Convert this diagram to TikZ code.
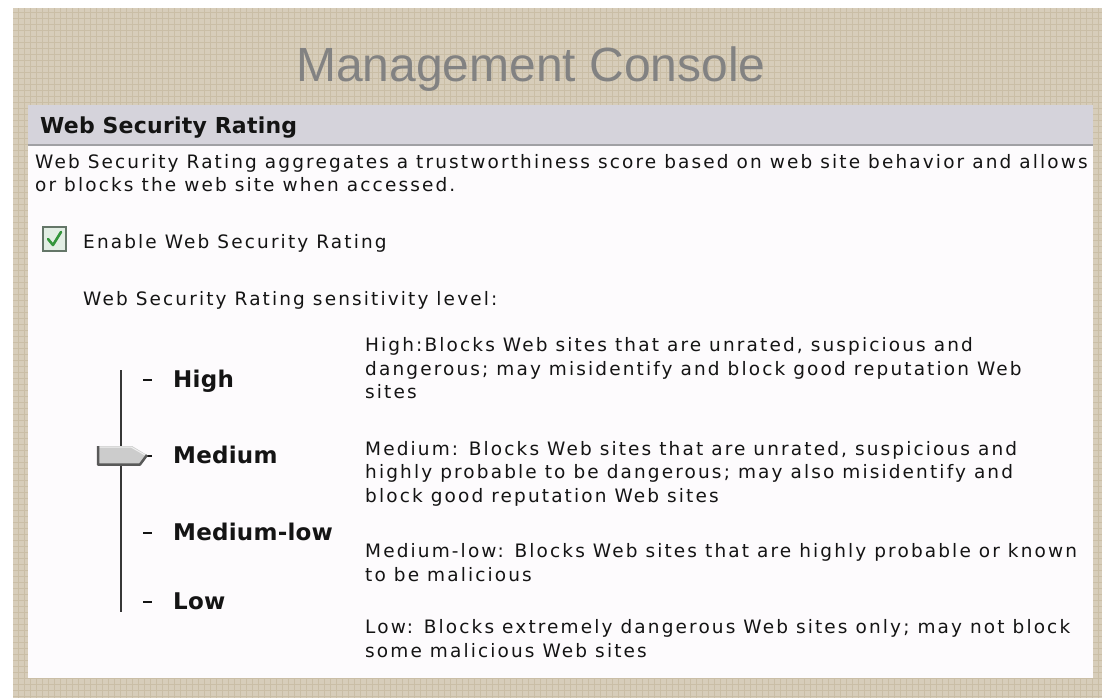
\documentclass[tikz,border=0pt]{standalone}
\usepackage{fontspec}
\newfontfamily\titlefont{Liberation Sans}
\newfontfamily\uifont[LetterSpace=11.5]{DejaVu Sans}
\newfontfamily\uibold[LetterSpace=1]{DejaVu Sans Bold}
\definecolor{tanbg}{RGB}{215,205,186}
\definecolor{tangrid}{RGB}{202,190,166}
\definecolor{panelbg}{RGB}{253,251,253}
\definecolor{headbg}{RGB}{213,211,219}
\definecolor{headline}{RGB}{160,160,164}
\definecolor{titlegrey}{RGB}{130,130,130}
\definecolor{inktext}{RGB}{20,20,20}
\definecolor{thumbfill}{RGB}{204,204,204}
\definecolor{checkfill}{RGB}{226,238,228}
\definecolor{checkedge}{RGB}{100,118,104}
\definecolor{checkgreen}{RGB}{52,150,60}
\tikzset{
  uitext/.style={anchor=base west, inner sep=0pt, text=inktext, font=\uifont\fontsize{18.5}{23}\selectfont},
  headtext/.style={anchor=base west, inner sep=0pt, text=inktext, font=\uibold\fontsize{22}{26}\selectfont},
  levellabel/.style={anchor=base west, inner sep=0pt, text=inktext, font=\uibold\fontsize{23}{27}\selectfont},
  tickdash/.style={draw=inktext, line width=2.5pt},
}
\begin{document}
\begin{tikzpicture}[x=1pt,y=-1pt]
\useasboundingbox (0,0) rectangle (1107,698);
% page background and grid paper
\fill[white] (0,0) rectangle (1107,698);
\fill[tanbg] (13,8) rectangle (1102,698);
\begin{scope}
  \clip (13,8) rectangle (1102,698);
  \draw[tangrid, line width=0.6pt, xstep=6pt, ystep=6pt] (13,8) grid (1102,698);
\end{scope}
% title
\node[anchor=base, inner sep=0pt, text=titlegrey, font=\titlefont\fontsize{48}{56}\selectfont] (title) at (531,82) {Management Console};
% console panel
\fill[panelbg] (28,105) rectangle (1093,678);
\fill[headbg] (28,105) rectangle (1093,145);
\draw[headline, line width=2pt] (28,145) -- (1093,145);
\node[headtext] (head) at (40,133) {Web Security Rating};
\node[uitext] (intro1) at (35,168) {Web Security Rating aggregates a trustworthiness score based on web site behavior and allows};
\node[uitext] (intro2) at (35,191) {or blocks the web site when accessed.};
% enable checkbox
\draw[checkedge, fill=checkfill, line width=1.5pt] (43,227) rectangle (66,251);
\draw[checkgreen, line width=2.6pt, line cap=round, line join=round] (48,239) -- (53,245) -- (61,232);
\node[uitext] (enable) at (83,248) {Enable Web Security Rating};
\node[uitext] (sens) at (83,305) {Web Security Rating sensitivity level:};
% slider track
\coordinate (trackTop) at (121,370);
\coordinate (trackBot) at (121,612);
\draw[inktext!85, line width=2.6pt] (trackTop) -- (trackBot);
% level labels with tick dashes
\node[levellabel] (lHigh) at (173,387) {High};
\node[levellabel] (lMed) at (173,463) {Medium};
\node[levellabel] (lMedLow) at (173,540) {Medium-low};
\node[levellabel] (lLow) at (173,609) {Low};
\foreach \yb in {387,463,540,609}{
  \draw[tickdash] (143,\yb-7) -- (152,\yb-7);
}
% slider thumb at Medium
\fill[thumbfill] (97,446) -- (132,446) -- (147,455) -- (140,465) -- (97,465) -- cycle;
\draw[white!70!thumbfill, line width=1pt] (98,447) -- (131,447) -- (145,455);
\draw[black!65, line width=2.5pt, line join=round] (98,446) -- (98,464.5) -- (140,464.5) -- (147,455);
% level descriptions
\node[uitext] (dHigh1) at (365,351) {High:Blocks Web sites that are unrated, suspicious and};
\node[uitext] (dHigh2) at (365,375) {dangerous; may misidentify and block good reputation Web};
\node[uitext] (dHigh3) at (365,398) {sites};
\node[uitext] (dMed1) at (365,455) {Medium: Blocks Web sites that are unrated, suspicious and};
\node[uitext] (dMed2) at (365,478) {highly probable to be dangerous; may also misidentify and};
\node[uitext] (dMed3) at (365,502) {block good reputation Web sites};
\node[uitext] (dML1) at (365,557) {Medium-low: Blocks Web sites that are highly probable or known};
\node[uitext] (dML2) at (365,581) {to be malicious};
\node[uitext] (dLow1) at (365,633) {Low: Blocks extremely dangerous Web sites only; may not block};
\node[uitext] (dLow2) at (365,657) {some malicious Web sites};
\end{tikzpicture}
\end{document}
